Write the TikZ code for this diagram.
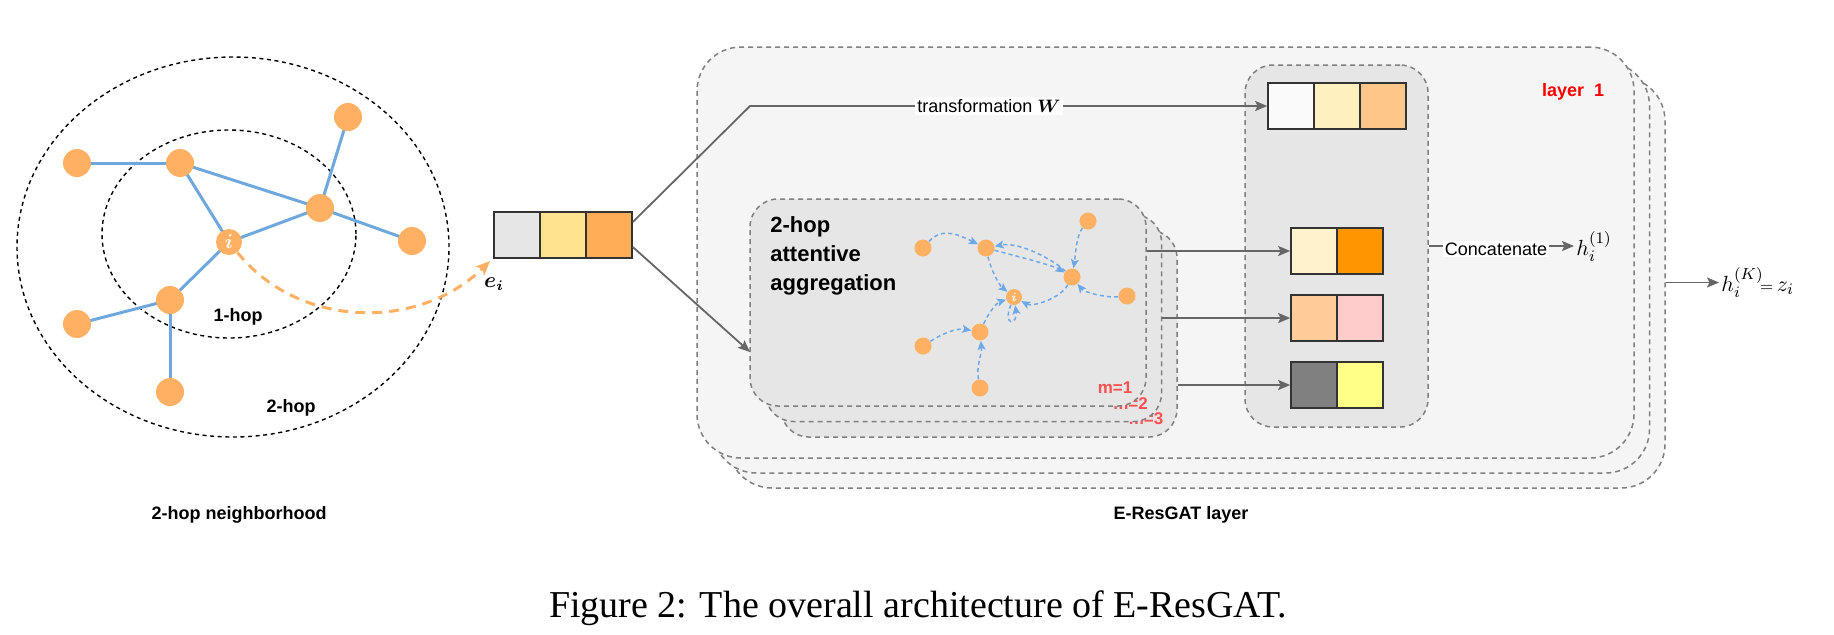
\documentclass[tikz,border=0pt]{standalone}
\usepackage{fontspec}
\setmainfont{Liberation Sans}
\newfontfamily\capfont{Liberation Serif}
\usepackage{bm}
\usetikzlibrary{shapes.geometric, arrows.meta, calc}
\definecolor{nodeor}{HTML}{FFB062}
\definecolor{edgeblue}{HTML}{6FA8DC}
\definecolor{attblue}{HTML}{6FA8E8}
\definecolor{boxgray}{HTML}{808080}
\definecolor{layerfill}{HTML}{F5F5F5}
\definecolor{innerfill}{HTML}{E6E6E6}
\definecolor{arrgray}{HTML}{666666}
\definecolor{cellline}{HTML}{333333}
\definecolor{mred}{HTML}{FF5050}
\definecolor{cYel}{HTML}{FFE38F}
\definecolor{cOra}{HTML}{FFAD56}
\definecolor{cWhite}{HTML}{FAFAFA}
\definecolor{cCream}{HTML}{FFF0C0}
\definecolor{cPeach}{HTML}{FFC68A}
\definecolor{cCream2}{HTML}{FFF2CC}
\definecolor{cOrange}{HTML}{FF9500}
\definecolor{cApricot}{HTML}{FFCC99}
\definecolor{cPink}{HTML}{FFCCCC}
\definecolor{cGray}{HTML}{808080}
\definecolor{cLemon}{HTML}{FFFF88}
\tikzset{
  gnode/.style={circle, fill=nodeor, minimum size=14pt, inner sep=0},
  snode/.style={circle, fill=nodeor, minimum size=8.5pt, inner sep=0},
  gedge/.style={draw=edgeblue, line width=1.5pt},
  hopring/.style={ellipse, draw=black, line width=0.7pt, dash pattern=on 2pt off 1.8pt, inner sep=0},
  layerbox/.style={draw=boxgray, line width=0.75pt, dash pattern=on 2.5pt off 2pt, rounded corners=22pt, fill=layerfill, inner sep=0},
  subbox/.style={draw=boxgray, line width=0.75pt, dash pattern=on 2.5pt off 2pt, rounded corners=14pt, fill=innerfill, inner sep=0},
  cell/.style={draw=cellline, line width=0.8pt, minimum size=23pt, inner sep=0},
  garrow/.style={draw=arrgray, line width=0.9pt, -{Stealth[length=6pt,width=5pt,inset=1.2pt]}},
  gline/.style={draw=arrgray, line width=0.9pt},
  aedge/.style={draw=attblue, line width=0.75pt, dash pattern=on 2pt off 1.6pt, -{Stealth[length=4.5pt,width=4pt,inset=1pt]}},
  eiarrow/.style={draw=nodeor, line width=1.5pt, dash pattern=on 5pt off 3.5pt, -{Stealth[length=7pt,width=6pt,inset=1.5pt]}},
  boldlbl/.style={font=\bfseries\fontsize{9}{11}\selectfont, inner sep=0},
  mlbl/.style={font=\bfseries\fontsize{8.5}{10}\selectfont, text=mred, inner sep=0},
  wlbl/.style={font=\fontsize{9}{11}\selectfont, fill=white, inner sep=1pt},
  inode/.style={gnode, minimum size=13pt, font=\fontsize{10}{10}\selectfont, text=white},
  mathlbl/.style={anchor=base west, inner sep=1pt, font=\fontsize{11}{13}\selectfont},
}
\begin{document}
\begin{tikzpicture}[x=0.5pt, y=-0.5pt]
\useasboundingbox (0,0) rectangle (1834,634);

% ---------------- left: 2-hop neighbourhood ----------------
\node[hopring, minimum width=216pt, minimum height=190pt] (hop2) at (233,247) {};
\node[hopring, minimum width=127pt, minimum height=104pt] (hop1) at (229,234) {};

\coordinate (p1) at (77,163);
\coordinate (p2) at (180,163);
\coordinate (p3) at (348,117);
\coordinate (p4) at (320,208);
\coordinate (p5) at (412,241);
\coordinate (p6) at (170,300);
\coordinate (p7) at (77,324);
\coordinate (p8) at (170,392);
\coordinate (pi) at (229,242);

\draw[gedge] (p1) -- (p2);
\draw[gedge] (p2) -- (p4);
\draw[gedge] (p2) -- (pi);
\draw[gedge] (p3) -- (p4);
\draw[gedge] (p4) -- (pi);
\draw[gedge] (p4) -- (p5);
\draw[gedge] (pi) -- (p6);
\draw[gedge] (p6) -- (p7);
\draw[gedge] (p6) -- (p8);

\node[gnode] (n1) at (p1) {};
\node[gnode] (n2) at (p2) {};
\node[gnode] (n3) at (p3) {};
\node[gnode] (n4) at (p4) {};
\node[gnode] (n5) at (p5) {};
\node[gnode] (n6) at (p6) {};
\node[gnode] (n7) at (p7) {};
\node[gnode] (n8) at (p8) {};
\node[inode] (ni) at (pi) {$\bm{i}$};

\node[boldlbl] (l1hop) at (238,317) {1-hop};
\node[boldlbl] (l2hop) at (291,408) {2-hop};

% e_i vector
\node[cell, fill=innerfill] (v0a) at (517,235) {};
\node[cell, fill=cYel] (v0b) at (563,235) {};
\node[cell, fill=cOra] (v0c) at (609,235) {};

\coordinate (eitip) at (490,261);
\draw[eiarrow] (ni) .. controls (300,330) and (420,330) .. (eitip);
\node[font=\fontsize{10.5}{12}\selectfont, inner sep=0] (eilbl) at (494,284) {$\bm{e_i}$};

% ---------------- right: E-ResGAT layer ----------------
\node[layerbox, minimum width=468.5pt, minimum height=205.5pt] (L3) at (1196.5,282.5) {};
\node[layerbox, minimum width=468.5pt, minimum height=205.5pt] (L2) at (1181,267.5) {};
\node[layerbox, minimum width=468.5pt, minimum height=205.5pt] (L1) at (1165.5,252.5) {};
\node[font=\bfseries\fontsize{9}{10}\selectfont, text=red, inner sep=0] (lay) at (1573,92) {layer\ \ 1};

% right gray column
\node[subbox, minimum width=91.5pt, minimum height=181pt] (G) at (1336.5,246) {};
\node[cell, fill=cWhite] (v1a) at (1291,106) {};
\node[cell, fill=cCream] (v1b) at (1337,106) {};
\node[cell, fill=cPeach] (v1c) at (1383,106) {};

\node[cell, fill=cCream2] (v2a) at (1314,251) {};
\node[cell, fill=cOrange] (v2b) at (1360,251) {};
\node[cell, fill=cApricot] (v3a) at (1314,318) {};
\node[cell, fill=cPink] (v3b) at (1360,318) {};
\node[cell, fill=cGray] (v4a) at (1314,385) {};
\node[cell, fill=cLemon] (v4b) at (1360,385) {};

% transformation W
\coordinate (tbend) at (750,106);
\draw[garrow] ($(v0c.east)+(0,-13)$) -- (tbend) -- (v1a.west);
\node[wlbl] (tw) at (989,106) {transformation $\bm{W}$};

% attention boxes
\node[subbox, minimum width=198pt, minimum height=103.5pt] (A3) at (979,333.5) {};
\node[mlbl] (m3) at (1146,419) {m=3};
\node[subbox, minimum width=198pt, minimum height=103.5pt] (A2) at (963.5,318) {};
\node[mlbl] (m2) at (1130.5,403.5) {m=2};
\node[subbox, minimum width=198pt, minimum height=103.5pt] (A1) at (948,302.5) {};
\node[mlbl] (m1) at (1115,388) {m=1};

\node[anchor=north west, align=left, inner sep=0, font=\bfseries\fontsize{11}{14.5}\selectfont] (attl) at (770,216) {2-hop\\attentive\\aggregation};

\coordinate (ain) at (750,352);
\draw[garrow] ($(v0c.east)+(0,12)$) -- (ain);

% small attention graph
\node[snode] (ga) at (923,248) {};
\node[snode] (gb) at (986,248) {};
\node[snode, minimum size=8pt, text=white, font=\fontsize{6}{6}\selectfont] (gi) at (1014,297) {$\bm{i}$};
\node[snode] (gc) at (980,332) {};
\node[snode] (gd) at (923,346) {};
\node[snode] (ge) at (980,388) {};
\node[snode] (gf) at (1088,221) {};
\node[snode] (gg) at (1072,277) {};
\node[snode] (gh) at (1127,296) {};

\draw[aedge] (ga) .. controls +(20,-22) and +(-25,-12) .. (gb);
\draw[aedge] (gb) .. controls +(5,22) and +(-15,-12) .. (gi);
\draw[aedge] (gg) .. controls +(-25,-22) and +(30,-6) .. (gb);
\draw[aedge] (gb) .. controls +(30,8) and +(-20,-12) .. (gg);
\draw[aedge] (gf) .. controls +(-12,15) and +(3,-18) .. (gg);
\draw[aedge] (gh) .. controls +(-22,2) and +(12,15) .. (gg);
\draw[aedge] (gd) .. controls +(22,-14) and +(-22,-4) .. (gc);
\draw[aedge] (ge) .. controls +(-4,-22) and +(2,22) .. (gc);
\draw[aedge] (gc) .. controls +(8,-18) and +(-18,6) .. (gi);
\draw[aedge] (gg) .. controls +(-12,22) and +(18,10) .. (gi);
\draw[aedge] (gi) .. controls +(-12,30) and +(4,28) .. (gi);

% arrows to the vectors
\draw[garrow] (A1.east |- v2a.west) -- (v2a.west);
\draw[garrow] (A2.east |- v3a.west) -- (v3a.west);
\draw[garrow] (A3.east |- v4a.west) -- (v4a.west);

% concatenate
\node[wlbl] (cat) at (1496,249) {Concatenate};
\draw[gline] (G.east) -- (cat.west |- G.east);
\node[mathlbl] (h1) at (1574,255) {$h_i^{(1)}$};
\draw[garrow] (cat.east |- G.east) -- (h1.west |- G.east);

% output
\node[mathlbl] (hk) at (1719,291) {$h_i^{(K)}\!{\scriptstyle =}\,z_i$};
\draw[garrow] (L3.east) -- (L3.east -| hk.west);

% bottom labels and caption
\node[boldlbl] (lneigh) at (239,515) {2-hop neighborhood};
\node[boldlbl] (llayer) at (1181,515) {E-ResGAT layer};
\node[font=\capfont\fontsize{19}{22}\selectfont, inner sep=0] (cap) at (918,608) {Figure 2: The overall architecture of E-ResGAT.};
\end{tikzpicture}
\end{document}
